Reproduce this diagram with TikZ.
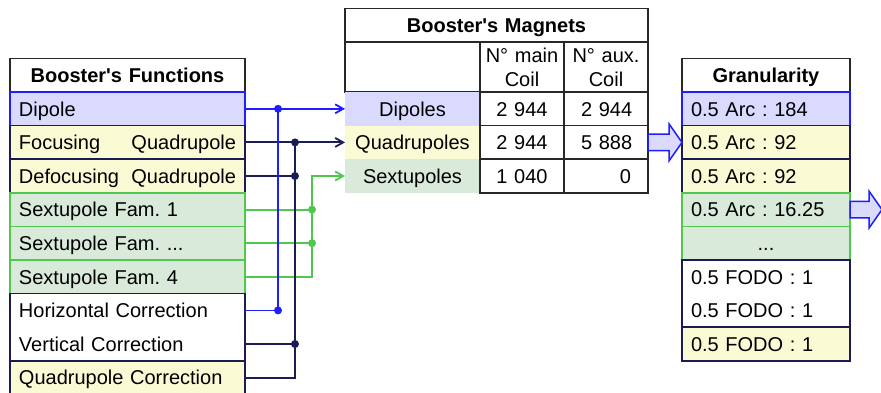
\documentclass[tikz,border=0pt]{standalone}
\usepackage{fontspec}
\setmainfont{Liberation Sans}
\usetikzlibrary{positioning,arrows.meta,shapes.arrows}
\frenchspacing

\definecolor{dipfill}{RGB}{218,218,255}
\definecolor{dipline}{RGB}{30,30,255}
\definecolor{quadfill}{RGB}{250,250,212}
\definecolor{quadline}{RGB}{28,28,84}
\definecolor{sextfill}{RGB}{218,234,218}
\definecolor{sextline}{RGB}{80,200,80}
\definecolor{gridline}{RGB}{40,40,40}

\tikzset{
	row/.style={draw=gridline, line width=1.5pt, anchor=north west, outer sep=0pt,
		minimum height=33.6pt, inner xsep=9pt, inner ysep=0pt, align=left,
		text height=14.5pt, text depth=0pt, font=\fontsize{20}{24}\selectfont},
	funrow/.style={row, minimum width=235pt, text width=217pt},
	granrow/.style={row, minimum width=168pt, text width=150pt},
	headrow/.style={align=center, font=\fontsize{20}{24}\selectfont\bfseries},
	magname/.style={row, draw=none, minimum width=135pt, text width=117pt, align=center},
	magmain/.style={row, minimum width=84pt, inner xsep=3pt, text width=78pt, align=center},
	magaux/.style={row, minimum width=84pt, inner xsep=17pt, text width=50pt, align=right},
	dipcell/.style={fill=dipfill, draw=dipline},
	quadcell/.style={fill=quadfill, draw=quadline},
	sextcell/.style={fill=sextfill, draw=sextline},
	wire/.style={line width=1.8pt},
	blockarrow/.style={single arrow, draw=dipline, fill=dipfill, line width=1.5pt,
		anchor=tail, outer sep=0pt, inner xsep=0pt, inner ysep=7.5pt,
		single arrow head extend=10pt, single arrow tip angle=110, minimum height=34pt},
	>={Straight Barb[length=8pt,width=9pt]}
}

\begin{document}
\begin{tikzpicture}[x=1pt,y=-1pt]
	\useasboundingbox (0,0) rectangle (881,393);

	% functions
	\node[funrow, headrow] (funhead) at (10,58.4) {Booster\textquotesingle s Functions};
	\node[funrow, dipcell, below=0pt of funhead] (dip) {Dipole};
	\node[funrow, quadcell, below=0pt of dip] (foc) {Focusing\hfill Quadrupole};
	\node[funrow, quadcell, below=0pt of foc] (defoc) {Defocusing\hfill Quadrupole};
	\node[funrow, sextcell, below=0pt of defoc] (sx1) {Sextupole Fam. 1};
	\node[funrow, sextcell, below=0pt of sx1] (sxd) {Sextupole Fam. ...};
	\node[funrow, sextcell, below=0pt of sxd] (sx4) {Sextupole Fam. 4};
	\node[funrow, draw=none, below=0pt of sx4] (hor) {Horizontal Correction};
	\node[funrow, draw=none, below=0pt of hor] (ver) {Vertical Correction};
	\draw[quadline, line width=1.5pt] (hor.north west) rectangle (ver.south east);
	\node[funrow, quadcell, below=0pt of ver] (qcor) {Quadrupole Correction};

	% magnets
	\node[row, headrow, minimum width=303pt, text width=285pt] (maghead) at (345,8.4) {Booster\textquotesingle s Magnets};
	\node[row, minimum width=135pt, minimum height=50pt, below=0pt of maghead.south west, anchor=north west] (magblank) {};
	\node[magmain, minimum height=50pt, text depth=24pt, right=0pt of magblank] (mainhead) {N° main\\Coil};
	\node[magmain, minimum height=50pt, text depth=24pt, right=0pt of mainhead] (auxhead) {N° aux.\\Coil};

	\node[magname, fill=dipfill, below=0pt of magblank] (mdip) {Dipoles};
	\node[magmain, right=0pt of mdip] (dipmain) {2~944};
	\node[magaux, right=0pt of dipmain] (dipaux) {2~944};
	\node[magname, fill=quadfill, below=0pt of mdip] (mquad) {Quadrupoles};
	\node[magmain, right=0pt of mquad] (quadmain) {2~944};
	\node[magaux, right=0pt of quadmain] (quadaux) {5~888};
	\node[magname, fill=sextfill, below=0pt of mquad] (msext) {Sextupoles};
	\node[magmain, right=0pt of msext] (sextmain) {1~040};
	\node[magaux, right=0pt of sextmain] (sextaux) {0};

	% granularity
	\node[granrow, headrow] (granhead) at (682,58.4) {Granularity};
	\node[granrow, dipcell, below=0pt of granhead] (gdip) {0.5 Arc : 184};
	\node[granrow, quadcell, below=0pt of gdip] (gquadA) {0.5 Arc : 92};
	\node[granrow, quadcell, below=0pt of gquadA] (gquadB) {0.5 Arc : 92};
	\node[granrow, sextcell, below=0pt of gquadB] (gsext) {0.5 Arc : 16.25};
	\node[granrow, sextcell, align=center, below=0pt of gsext] (gdots) {...};
	\node[granrow, draw=none, below=0pt of gdots] (gfodoA) {0.5 FODO : 1};
	\node[granrow, draw=none, below=0pt of gfodoA] (gfodoB) {0.5 FODO : 1};
	\draw[quadline, line width=1.5pt] (gfodoA.north west) rectangle (gfodoB.south east);
	\node[granrow, quadcell, below=0pt of gfodoB] (gfodoC) {0.5 FODO : 1};

	\node[blockarrow] (togran) at (quadaux.east) {};
	\node[blockarrow, minimum height=32pt] (onward) at (gsext.east) {};

	% wiring
	\coordinate (bluebus) at (278,0);
	\coordinate (navybus) at (295,0);
	\coordinate (greenbus) at (312,0);

	\draw[wire, sextline, ->] (sx4.east) -| (msext.west -| greenbus) -- (msext.west);
	\draw[wire, sextline] (sx1.east) -- (sx1.east -| greenbus);
	\draw[wire, sextline] (sxd.east) -- (sxd.east -| greenbus);
	\fill[sextline] (sx1.east -| greenbus) circle (4pt) (sxd.east -| greenbus) circle (4pt);

	\draw[wire, quadline, ->] (foc.east) -- (mquad.west);
	\draw[wire, quadline] (qcor.east) -| (foc.east -| navybus);
	\draw[wire, quadline] (defoc.east) -- (defoc.east -| navybus);
	\draw[wire, quadline] (ver.east) -- (ver.east -| navybus);
	\fill[quadline] (foc.east -| navybus) circle (4pt) (defoc.east -| navybus) circle (4pt)
		(ver.east -| navybus) circle (4pt);

	\draw[wire, dipline, ->] (dip.east) -- (mdip.west);
	\draw[wire, dipline] (hor.east) -| (dip.east -| bluebus);
	\fill[dipline] (dip.east -| bluebus) circle (4pt) (hor.east -| bluebus) circle (4pt);
\end{tikzpicture}
\end{document}
